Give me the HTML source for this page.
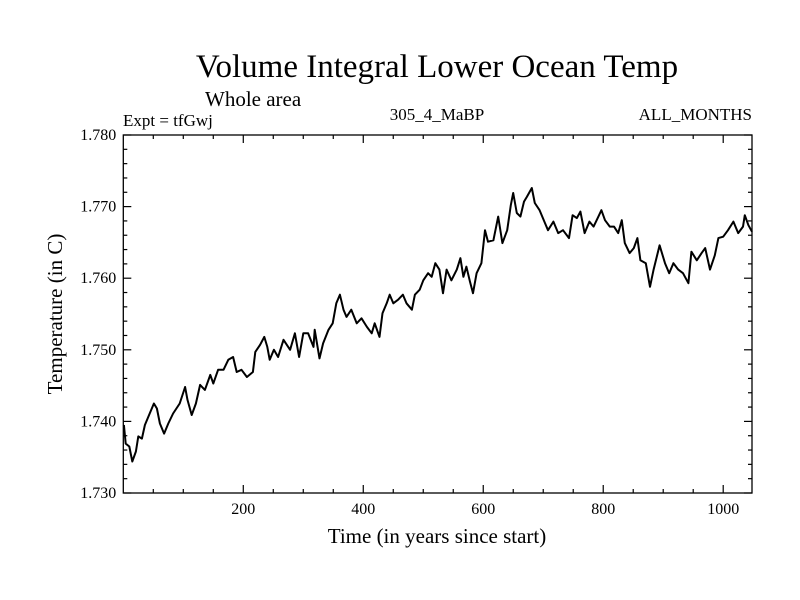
<!DOCTYPE html>
<html><head><meta charset="utf-8"><style>
html,body{margin:0;padding:0;background:#fff;}
svg{display:block;font-family:"Liberation Serif",serif;}
</style></head><body>
<svg id="chart" width="800" height="600">
<rect x="0" y="0" width="800" height="600" fill="#fff"/>
<text x="437" y="77" font-size="33" text-anchor="middle">Volume Integral Lower Ocean Temp</text>
<text x="205" y="106" font-size="21">Whole area</text>
<text x="123" y="126" font-size="17">Expt = tfGwj</text>
<text x="437" y="120" font-size="17" text-anchor="middle">305_4_MaBP</text>
<text x="752" y="120" font-size="17" text-anchor="end">ALL_MONTHS</text>
<text x="437" y="543" font-size="21" text-anchor="middle">Time (in years since start)</text>
<text transform="translate(62,314) rotate(-90)" font-size="21" text-anchor="middle">Temperature (in C)</text>
<g id="axes"></g>
<path id="series" fill="none" stroke="#000" stroke-width="2" stroke-linejoin="round"/>
</svg>
<script>
const years=[1,4,10,15,21,25,31,36,44,51,56,61,68,75,83,94,103,107,114,121,128,136,145,150,158,167,175,183,189,197,206,216,220,228,235,240,244,251,258,267,278,286,293,300,308,317,319,327,333,342,349,355,361,367,372,380,389,397,406,414,419,427,432,439,444,450,458,466,472,481,486,494,500,508,514,520,527,533,539,547,556,562,567,572,578,583,589,597,603,608,617,625,632,640,646,650,656,662,668,673,681,686,694,703,708,717,725,733,743,749,756,762,769,777,784,792,797,803,811,818,825,831,836,844,851,857,862,871,878,884,894,903,910,917,925,933,942,947,956,964,970,978,986,992,1000,1008,1017,1025,1033,1036,1042,1048];
const temps=[1.7395,1.7369,1.7365,1.7344,1.7358,1.7379,1.7376,1.7395,1.7411,1.7425,1.7418,1.7397,1.7383,1.7397,1.7411,1.7425,1.7448,1.7430,1.7409,1.7425,1.7451,1.7444,1.7465,1.7453,1.7472,1.7472,1.7486,1.7490,1.7469,1.7472,1.7462,1.7469,1.7497,1.7507,1.7518,1.7504,1.7486,1.7500,1.7490,1.7514,1.7500,1.7523,1.7490,1.7523,1.7523,1.7504,1.7528,1.7488,1.7509,1.7528,1.7537,1.7565,1.7577,1.7556,1.7546,1.7556,1.7537,1.7544,1.7532,1.7523,1.7537,1.7518,1.7551,1.7565,1.7577,1.7565,1.7570,1.7577,1.7565,1.7556,1.7577,1.7584,1.7597,1.7607,1.7602,1.7621,1.7612,1.7579,1.7612,1.7597,1.7612,1.7628,1.7602,1.7616,1.7595,1.7579,1.7607,1.7621,1.7667,1.7651,1.7653,1.7686,1.7649,1.7667,1.7702,1.7719,1.7691,1.7686,1.7707,1.7714,1.7726,1.7705,1.7695,1.7677,1.7667,1.7679,1.7663,1.7667,1.7656,1.7688,1.7684,1.7693,1.7663,1.7679,1.7672,1.7686,1.7695,1.7681,1.7672,1.7672,1.7663,1.7681,1.7649,1.7635,1.7642,1.7656,1.7625,1.7621,1.7588,1.7612,1.7646,1.7621,1.7607,1.7621,1.7612,1.7607,1.7593,1.7637,1.7625,1.7635,1.7642,1.7612,1.7632,1.7656,1.7658,1.7667,1.7679,1.7663,1.7672,1.7688,1.7674,1.7665];
const xTicks=[200,400,600,800,1000];
const yTicks=[1.730,1.740,1.750,1.760,1.770,1.780];
const yTickLabels=["1.730","1.740","1.750","1.760","1.770","1.780"];

const L=123.3,R=752,T=135,B=493,X0=0,X1=1048,Y0=1.730,Y1=1.780;
const sx=v=>L+(v-X0)/(X1-X0)*(R-L);
const sy=v=>B-(v-Y0)/(Y1-Y0)*(B-T);
const NS="http://www.w3.org/2000/svg";
const g=document.getElementById('axes');
function mk(tag,attrs){const e=document.createElementNS(NS,tag);for(const k in attrs)e.setAttribute(k,attrs[k]);g.appendChild(e);return e;}
const frame=mk('rect',{x:L,y:T,width:R-L,height:B-T,fill:'none',stroke:'#000','stroke-width':1.3});


for(let v=50;v<X1;v+=50){
  const maj=v%200===0,len=maj?8:4,x=sx(v);
  const t1=mk('line',{x1:x,y1:B,x2:x,y2:B-len,stroke:'#000','stroke-width':1.2});
  
  
  const t2=mk('line',{x1:x,y1:T,x2:x,y2:T+len,stroke:'#000','stroke-width':1.2});
  
  
}
xTicks.forEach(v=>{
  const t=mk('text',{x:sx(v),y:B+21,'font-size':16,'text-anchor':'middle'});t.textContent=v;
  
  
});
for(let i=0;i<=25;i++){
  const v=Y0+i*0.002,maj=i%5===0,len=maj?8:4,y=sy(v);
  const t1=mk('line',{x1:L,y1:y,x2:L+len,y2:y,stroke:'#000','stroke-width':1.2});
  
  
  const t2=mk('line',{x1:R,y1:y,x2:R-len,y2:y,stroke:'#000','stroke-width':1.2});
  
  
}
yTicks.forEach((v,i)=>{
  const t=mk('text',{x:L-7,y:sy(v)+5,'font-size':16,'text-anchor':'end'});t.textContent=yTickLabels[i];
  
  
});
document.getElementById('series').setAttribute('d',years.map((yr,i)=>(i?'L':'M')+sx(yr).toFixed(1)+','+sy(temps[i]).toFixed(1)).join(''));
</script>
</body></html>
